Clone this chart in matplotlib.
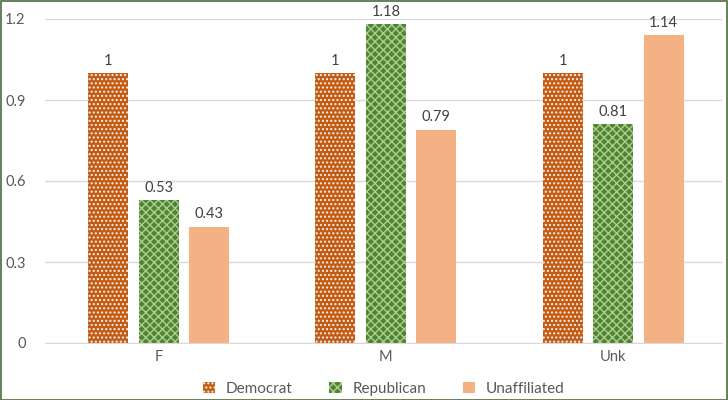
import numpy as np
import matplotlib
matplotlib.use("Agg")
from matplotlib import pyplot as plt
from matplotlib.patches import Rectangle

plt.rcParams['font.family'] = ['Lato', 'DejaVu Sans']
plt.rcParams['hatch.linewidth'] = 1.0

categories = ["F", "M", "Unk"]
democrat = [1, 1, 1]
republican = [0.53, 1.18, 0.81]
unaffiliated = [0.43, 0.79, 1.14]
yticks = [0, 0.3, 0.6, 0.9, 1.2]
yticklabels = ["0", "0.3", "0.6", "0.9", "1.2"]

fig = plt.figure(figsize=(7.28, 4), dpi=100)
ax = fig.add_axes([0.062, 0.1425, 0.93, 0.81])

x = np.arange(len(categories))
w = 0.176
step = 0.222
series = [
    ("Democrat", democrat, "#C55A11", "....", "#F2F2F2"),
    ("Republican", republican, "#548235", "xxxx", "#A9D18E"),
    ("Unaffiliated", unaffiliated, "#F4B183", None, "#F4B183"),
]
for i, (name, vals, fc, hatch, hc) in enumerate(series):
    bars = ax.bar(x + (i - 1) * step, vals, w, color=fc, edgecolor=hc,
                  hatch=hatch, linewidth=0, label=name, zorder=2)
    for b, v in zip(bars, vals):
        ax.text(b.get_x() + b.get_width() / 2, v + 0.02, f"{v:g}",
                ha="center", va="bottom", fontsize=10.5, color="#404040")

ax.set_xlim(-0.5, 2.48)
ax.set_ylim(0, 1.2)
ax.set_yticks(yticks)
ax.set_yticklabels(yticklabels)
ax.set_xticks(x)
ax.set_xticklabels(categories)
ax.grid(axis="y", color="#D9D9D9", linewidth=1, zorder=0)
ax.tick_params(length=0, labelsize=10.5, colors="#595959")
ax.tick_params(axis="y", pad=14)
ax.tick_params(axis="x", pad=5)
for s in ["top", "right", "left"]:
    ax.spines[s].set_visible(False)
ax.spines["bottom"].set_color("#D9D9D9")

leg = ax.legend(loc="lower center", bbox_to_anchor=(0.5, -0.205), ncol=3,
                frameon=False, fontsize=11, handlelength=0.8, handleheight=0.8,
                columnspacing=2.4, handletextpad=0.7)
for t in leg.get_texts():
    t.set_color("#595959")

fig.patches.append(Rectangle((0.001, 0.001), 0.997, 0.997, transform=fig.transFigure,
                             fill=False, edgecolor="#4E6B3A", linewidth=1.2))

fig.savefig("out.png", dpi=100)
